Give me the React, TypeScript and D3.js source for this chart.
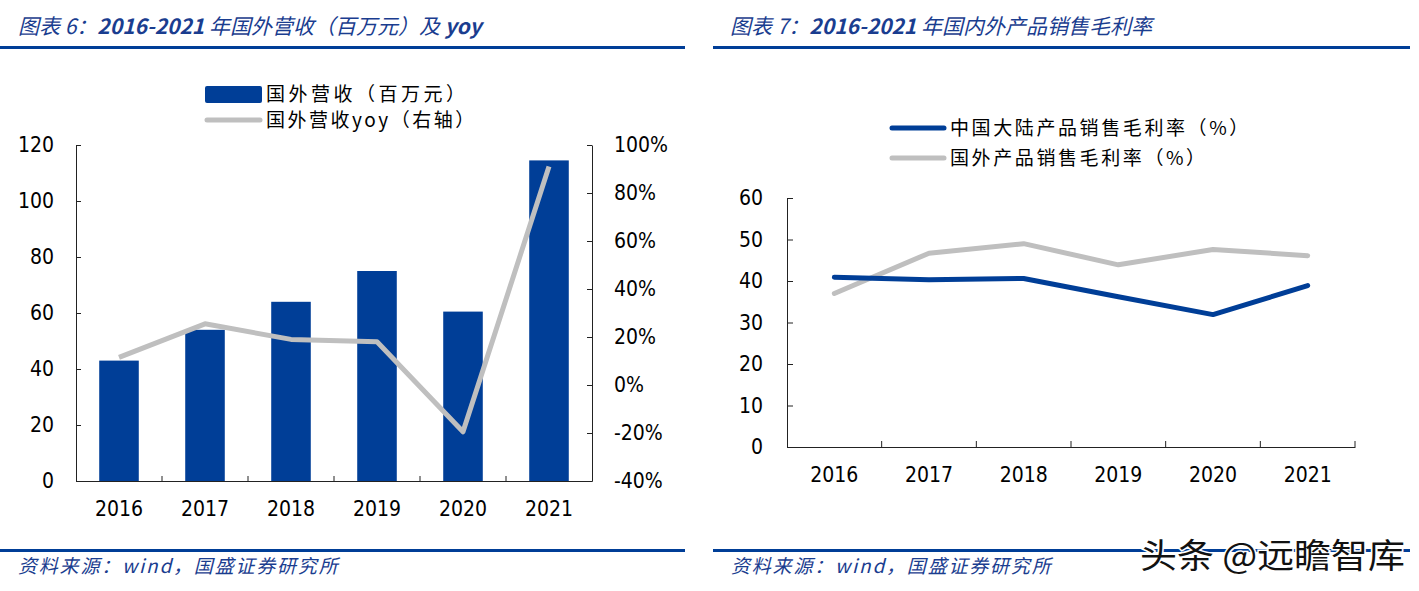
import React, { useEffect, useRef } from 'react';
import { axisBottom, axisLeft, axisRight, line, scaleBand, scaleLinear, scalePoint, select } from 'd3';

const years = ['2016', '2017', '2018', '2019', '2020', '2021'];
const revenue = [43, 54, 64, 75, 60.5, 114.5];
const yoy = [11.5, 25.5, 19, 18, -19.5, 91];
const leftTicks = [0, 20, 40, 60, 80, 100, 120];
const rightTicks = [-40, -20, 0, 20, 40, 60, 80, 100];

const domesticMargin = [40.9, 40.3, 40.6, 36.2, 31.9, 38.9];
const foreignMargin = [37, 46.7, 49, 43.9, 47.6, 46.1];
const marginTicks = [0, 10, 20, 30, 40, 50, 60];

const BLUE = '#003E97';
const GRAY = '#BFBFBF';
const NAVY = '#1A3D8F';
const CN = '"Noto Sans CJK SC", sans-serif';
const NUM = '"DejaVu Sans Condensed", "DejaVu Sans", sans-serif';

export default function App() {
  const svgRef = useRef<SVGSVGElement>(null);

  useEffect(() => {
    const svg = select(svgRef.current);
    svg.selectAll('*').remove();

    // headers and footers
    const headers = [
      { x: 18, parts: [['图表 6：', 400], ['2016-2021', 700], [' 年国外营收（百万元）及 ', 400], ['yoy', 700]], x0: 0, x1: 685 },
      { x: 730, parts: [['图表 7：', 400], ['2016-2021', 700], [' 年国内外产品销售毛利率', 400]], x0: 713, x1: 1410 },
    ];
    headers.forEach((h) => {
      const t = svg.append('text').attr('x', h.x).attr('y', 34)
        .attr('font-family', CN).attr('font-size', 21).attr('font-style', 'italic').attr('fill', NAVY);
      h.parts.forEach(([s, w]) => t.append('tspan').attr('font-weight', w).text(s as string));
      svg.append('rect').attr('x', h.x0).attr('y', 46).attr('width', h.x1 - h.x0).attr('height', 3).attr('fill', BLUE);
      svg.append('rect').attr('x', h.x0).attr('y', 549).attr('width', h.x1 - h.x0).attr('height', 3).attr('fill', BLUE);
      svg.append('text').attr('x', h.x0 + 18).attr('y', 573).text('资料来源：wind，国盛证券研究所')
        .attr('font-family', CN).attr('font-size', 19).attr('letter-spacing', 1.8)
        .attr('font-style', 'italic').attr('fill', NAVY);
    });

    // ---------- chart 6 ----------
    const g1 = svg.append('g');
    const x1 = scaleBand().domain(years).range([76, 592]).paddingInner(0.54).paddingOuter(0.27);
    const xb1 = scaleBand().domain(years).range([76, 592]);
    const yL = scaleLinear().domain([0, 120]).range([481, 145]);
    const yR = scaleLinear().domain([-40, 100]).range([481, 145]);

    g1.selectAll('.bar').data(revenue).join('rect')
      .attr('x', (_, i) => x1(years[i])!)
      .attr('width', x1.bandwidth())
      .attr('y', (d) => yL(d))
      .attr('height', (d) => yL(0) - yL(d))
      .attr('fill', BLUE);

    const yoyLine = line<number>()
      .x((_, i) => xb1(years[i])! + xb1.bandwidth() / 2)
      .y((d) => yR(d));
    g1.append('path').attr('d', yoyLine(yoy)).attr('fill', 'none')
      .attr('stroke', GRAY).attr('stroke-width', 5).attr('stroke-linejoin', 'round');

    const ax1 = g1.append('g').attr('transform', 'translate(76,0)')
      .call(axisLeft(yL).tickValues(leftTicks).tickSize(-5).tickPadding(22).tickSizeOuter(0));
    const ax2 = g1.append('g').attr('transform', 'translate(592,0)')
      .call(axisRight(yR).tickValues(rightTicks).tickSize(-5).tickPadding(22).tickSizeOuter(0)
        .tickFormat((d) => `${d}%`));
    const ax3 = g1.append('g').attr('transform', 'translate(0,481)')
      .call(axisBottom(xb1).tickSize(0).tickPadding(20));
    g1.selectAll('.bt').data(years.slice(1)).join('line')
      .attr('x1', (d) => xb1(d)!).attr('x2', (d) => xb1(d)!)
      .attr('y1', 481).attr('y2', 476).attr('stroke', '#222');
    [ax1, ax2, ax3].forEach((a) => {
      a.select('.domain').attr('stroke', '#222');
      a.selectAll('.tick line').attr('stroke', '#222');
      a.selectAll('text').attr('font-family', NUM).attr('font-size', 21).attr('fill', '#000');
    });
    ax2.selectAll('text').attr('text-anchor', 'start');

    // legend 6
    svg.append('rect').attr('x', 205).attr('y', 86).attr('width', 57).attr('height', 17).attr('rx', 2).attr('fill', BLUE);
    svg.append('line').attr('x1', 207).attr('x2', 260).attr('y1', 120).attr('y2', 120)
      .attr('stroke', GRAY).attr('stroke-width', 5).attr('stroke-linecap', 'round');
    svg.append('text').attr('x', 266).attr('y', 101).text('国外营收（百万元）')
      .attr('font-family', CN).attr('font-size', 19).attr('letter-spacing', 3.5);
    svg.append('text').attr('x', 266).attr('y', 127).text('国外营收yoy（右轴）')
      .attr('font-family', CN).attr('font-size', 19).attr('letter-spacing', 2.5);

    // ---------- chart 7 ----------
    const g2 = svg.append('g');
    const xb2 = scaleBand().domain(years).range([787, 1355]);
    const xp2 = scalePoint().domain(years).range([787 + 568 / 12, 1355 - 568 / 12]);
    const y2 = scaleLinear().domain([0, 60]).range([447, 198]);

    const ml = line<number>().x((_, i) => xp2(years[i])!).y((d) => y2(d));
    g2.append('path').attr('d', ml(foreignMargin)).attr('fill', 'none')
      .attr('stroke', GRAY).attr('stroke-width', 5).attr('stroke-linejoin', 'round').attr('stroke-linecap', 'round');
    g2.append('path').attr('d', ml(domesticMargin)).attr('fill', 'none')
      .attr('stroke', BLUE).attr('stroke-width', 5).attr('stroke-linejoin', 'round').attr('stroke-linecap', 'round');

    const ay = g2.append('g').attr('transform', 'translate(787,0)')
      .call(axisLeft(y2).tickValues(marginTicks).tickSize(-6).tickPadding(24).tickSizeOuter(0));
    const ax = g2.append('g').attr('transform', 'translate(0,447)')
      .call(axisBottom(xb2).tickSize(0).tickPadding(20).tickSizeOuter(0));
    g2.selectAll('.bt').data([...years.slice(1), 'end']).join('line')
      .attr('x1', (d) => (d === 'end' ? 1355 : xb2(d)!)).attr('x2', (d) => (d === 'end' ? 1355 : xb2(d)!))
      .attr('y1', 447).attr('y2', 441).attr('stroke', '#222');
    [ay, ax].forEach((a) => {
      a.select('.domain').attr('stroke', '#222');
      a.selectAll('.tick line').attr('stroke', '#222');
      a.selectAll('text').attr('font-family', NUM).attr('font-size', 21).attr('fill', '#000');
    });

    // legend 7
    svg.append('line').attr('x1', 892).attr('x2', 944).attr('y1', 128).attr('y2', 128)
      .attr('stroke', BLUE).attr('stroke-width', 5).attr('stroke-linecap', 'round');
    svg.append('line').attr('x1', 892).attr('x2', 944).attr('y1', 158).attr('y2', 158)
      .attr('stroke', GRAY).attr('stroke-width', 5).attr('stroke-linecap', 'round');
    svg.append('text').attr('x', 950).attr('y', 135).text('中国大陆产品销售毛利率（%）')
      .attr('font-family', CN).attr('font-size', 19).attr('letter-spacing', 2.6);
    svg.append('text').attr('x', 950).attr('y', 165).text('国外产品销售毛利率（%）')
      .attr('font-family', CN).attr('font-size', 19).attr('letter-spacing', 2.6);

    // watermark
    svg.append('text').attr('x', 1140).attr('y', 568).text('头条 @远瞻智库')
      .attr('font-family', CN).attr('font-size', 34).attr('fill', '#111')
      .attr('textLength', 265).attr('lengthAdjust', 'spacingAndGlyphs')
      .attr('stroke', '#fff').attr('stroke-width', 3).attr('paint-order', 'stroke');
  }, []);

  return (
    <svg ref={svgRef} width={1419} height={591}
      style={{ position: 'absolute', left: 0, top: 0, background: '#fff' }} />
  );
}
